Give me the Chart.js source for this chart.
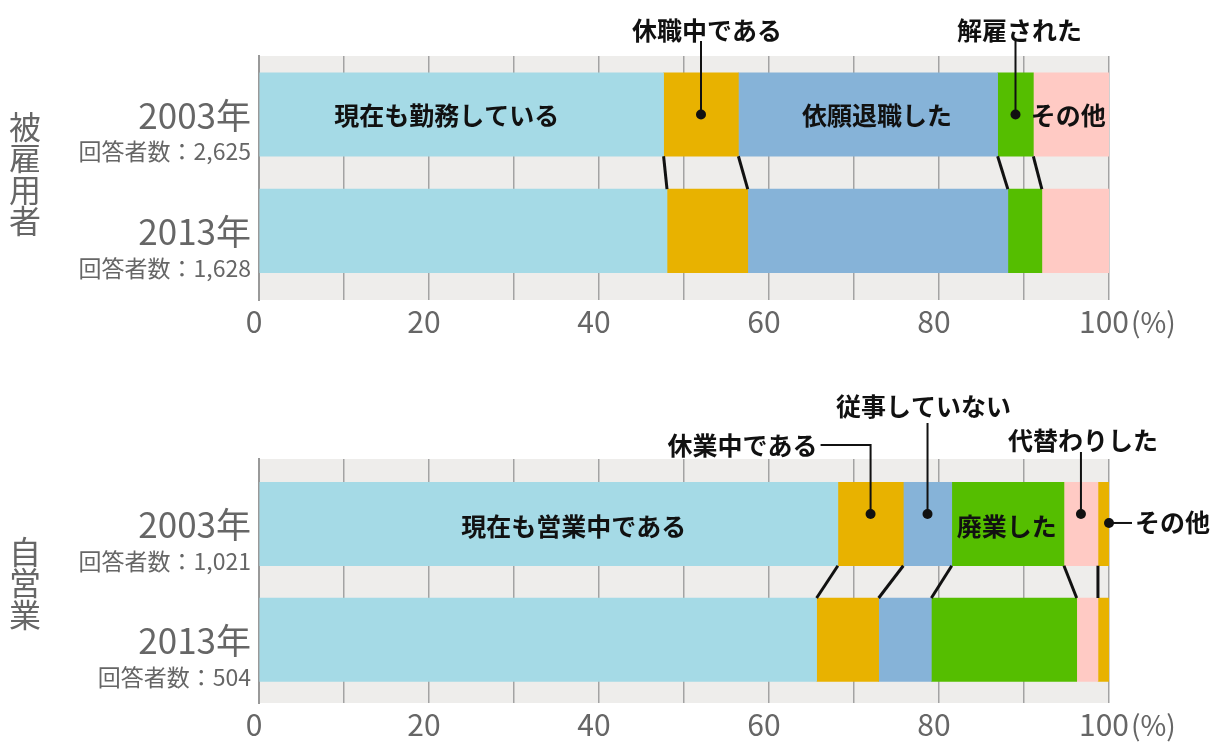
<!DOCTYPE html>
<html lang="ja">
<head>
<meta charset="utf-8">
<script src="https://cdn.jsdelivr.net/npm/chart.js@4.4.1/dist/chart.umd.min.js"></script>
<style>
  html, body { margin: 0; background: #fff; }
  .wrap { position: relative; width: 1220px; height: 752px; }
  .box { position: absolute; left: 0; width: 1220px; height: 376px; }
  #topBox { top: 0; }
  #bottomBox { top: 376px; }
</style>
</head>
<body>
<div class="wrap">
  <div class="box" id="topBox"><canvas id="topChart" width="1220" height="376"></canvas></div>
  <div class="box" id="bottomBox"><canvas id="bottomChart" width="1220" height="376"></canvas></div>
</div>
<script>
/* ---------------- DATA ---------------- */

const xTickLabels = [0, 20, 40, 60, 80, 100];

// 被雇用者
const empYears = ["2003年", "2013年"];
const empCounts = ["2,625", "1,628"];
const empSeries = ["現在も勤務している", "休職中である", "依願退職した", "解雇された", "その他"];
const empWorking = [47.6, 48.0];
const empLeave = [8.8, 9.5];
const empQuit = [30.5, 30.6];
const empFired = [4.2, 4.0];
const empOther = [8.9, 7.9];

// 自営業
const selfYears = ["2003年", "2013年"];
const selfCounts = ["1,021", "504"];
const selfSeries = ["現在も営業中である", "休業中である", "従事していない", "廃業した", "代替わりした", "その他"];
const selfRunning = [68.1, 65.6];
const selfPaused = [7.7, 7.3];
const selfNotWorking = [5.7, 6.2];
const selfClosed = [13.2, 17.1];
const selfSucceeded = [4.0, 2.5];
const selfOther = [1.3, 1.3];

/* ---------------- STYLE ---------------- */

const FONT = '"Noto Sans CJK JP", "Noto Sans", sans-serif';
const colors = ["#a5dae6", "#e8b200", "#86b3d8", "#55be00", "#ffcac4", "#e8b200"];

/* ---------------- OVERLAY PLUGIN ---------------- */

const overlay = {
  id: "overlay",
  beforeDraw(chart) {
    const a = chart.chartArea, ctx = chart.ctx;
    ctx.save();
    ctx.fillStyle = "#eeedeb";
    ctx.fillRect(a.left, a.top, a.right - a.left, a.bottom - a.top);
    ctx.restore();
  },
  afterDatasetsDraw(chart, args, o) {
    const ctx = chart.ctx, a = chart.chartArea;
    const rows = chart.getDatasetMeta(0).data.map(b => b.y);
    ctx.save();

    // lines joining the two bars
    ctx.strokeStyle = "#111";
    ctx.lineWidth = 3;
    for (let d = 1; d < chart.data.datasets.length; d++) {
      const [b0, b1] = chart.getDatasetMeta(d).data;
      ctx.beginPath();
      ctx.moveTo(b0.base, b0.y + b0.height / 2);
      ctx.lineTo(b1.base, b1.y - b1.height / 2);
      ctx.stroke();
    }

    // labels inside the bars
    ctx.fillStyle = "#111";
    ctx.font = "bold 25px " + FONT;
    ctx.textBaseline = "middle";
    ctx.textAlign = "center";
    o.inside.forEach(l => {
      const b = chart.getDatasetMeta(l.ds).data[0];
      ctx.fillText(chart.data.datasets[l.ds].label, (b.base + b.x) / 2 + l.dx, b.y + l.dy);
    });

    // callouts
    ctx.lineWidth = 2;
    o.callouts.forEach(c => {
      const b = chart.getDatasetMeta(c.ds).data[0];
      const text = chart.data.datasets[c.ds].label;
      const px = c.kind === "right" ? b.x : (b.base + b.x) / 2;
      const py = b.y + c.dy;
      ctx.beginPath();
      ctx.arc(px, py, 5, 0, Math.PI * 2);
      ctx.fill();
      ctx.beginPath();
      if (c.kind === "up") {
        ctx.moveTo(px, a.top + c.lineTop);
        ctx.lineTo(px, py);
        ctx.stroke();
        ctx.textAlign = "center";
        ctx.fillText(text, px + c.dx, a.top + c.textY);
      } else if (c.kind === "elbow") {
        ctx.moveTo(px + c.dx, a.top + c.textY);
        ctx.lineTo(px, a.top + c.textY);
        ctx.lineTo(px, py);
        ctx.stroke();
        ctx.textAlign = "right";
        ctx.fillText(text, px + c.dx - 3, a.top + c.textY);
      } else {
        ctx.moveTo(px, py);
        ctx.lineTo(px + c.dx, py);
        ctx.stroke();
        ctx.textAlign = "left";
        ctx.fillText(text, px + c.dx + 3, py);
      }
    });

    // row labels
    ctx.fillStyle = "#666";
    ctx.textAlign = "right";
    rows.forEach((y, i) => {
      ctx.font = "35px " + FONT;
      ctx.fillText(o.years[i], a.left - 8, y + 1);
      ctx.font = "23px " + FONT;
      ctx.fillText("回答者数：" + o.counts[i], a.left - 8, y + 37);
    });

    // group label, vertical
    ctx.font = "32px " + FONT;
    ctx.textAlign = "center";
    const chars = [...o.group];
    const mid = (rows[0] + rows[1]) / 2 + 1;
    chars.forEach((ch, i) => {
      ctx.fillText(ch, 25, mid + (i - (chars.length - 1) / 2) * 31.5);
    });

    // (%) after the last tick
    const xs = chart.scales.x;
    ctx.font = "30px " + FONT;
    const w100 = ctx.measureText("100").width;
    ctx.font = "28px " + FONT;
    ctx.textAlign = "left";
    ctx.fillText("(%)", xs.getPixelForValue(100) - 5 + w100 / 2 + 2, xs.top + 4 + 18);

    ctx.restore();
  }
};

/* ---------------- CHARTS ---------------- */

function makeChart(canvas, c) {
  return new Chart(canvas, {
    type: "bar",
    data: {
      labels: c.years.map((_, i) => i),
      datasets: c.values.map((v, i) => ({
        label: c.series[i],
        data: v,
        backgroundColor: colors[i],
        borderWidth: 0,
        barThickness: 83.5
      }))
    },
    options: {
      indexAxis: "y",
      responsive: false,
      animation: false,
      layout: { padding: { top: c.top, right: 111, left: 0, bottom: 0 } },
      scales: {
        x: {
          type: "linear",
          stacked: true,
          min: 0,
          max: 100,
          afterFit: s => { s.height = c.axisHeight; },
          ticks: {
            stepSize: 10,
            autoSkip: false,
            maxRotation: 0,
            padding: 4,
            labelOffset: -5,
            color: "#666",
            font: { family: FONT, size: 30 },
            callback: v => xTickLabels.includes(v) ? String(v) : ""
          },
          grid: { color: "#a3a3a3", lineWidth: 1.5, drawTicks: false },
          border: { display: false }
        },
        y: {
          type: "linear",
          stacked: true,
          reverse: true,
          offset: false,
          min: c.yMin,
          max: c.yMax,
          afterFit: s => { s.width = 259; },
          ticks: { display: false },
          grid: { display: false },
          border: { display: true, color: "#999", width: 2 }
        }
      },
      plugins: {
        legend: { display: false },
        tooltip: { enabled: false },
        overlay: {
          years: c.years,
          counts: c.counts,
          group: c.group,
          inside: c.inside,
          callouts: c.callouts
        }
      }
    },
    plugins: [overlay]
  });
}

makeChart(document.getElementById("topChart"), {
  years: empYears,
  counts: empCounts,
  series: empSeries,
  values: [empWorking, empLeave, empQuit, empFired, empOther],
  group: "被雇用者",
  top: 56,
  axisHeight: 76,
  yMin: -0.503,
  yMax: 1.594,
  inside: [
    { ds: 0, dx: -15, dy: 1 },
    { ds: 2, dx: 9, dy: 1 },
    { ds: 4, dx: -3, dy: 1 }
  ],
  callouts: [
    { ds: 1, kind: "up", dx: 6, dy: 0, textY: -26, lineTop: -15 },
    { ds: 3, kind: "up", dx: 4, dy: 0, textY: -26, lineTop: -15 }
  ]
});

makeChart(document.getElementById("bottomChart"), {
  years: selfYears,
  counts: selfCounts,
  series: selfSeries,
  values: [selfRunning, selfPaused, selfNotWorking, selfClosed, selfSucceeded, selfOther],
  group: "自営業",
  top: 83,
  axisHeight: 49,
  yMin: -0.561,
  yMax: 1.546,
  inside: [
    { ds: 0, dx: 25, dy: 3 },
    { ds: 3, dx: -1, dy: 3 }
  ],
  callouts: [
    { ds: 1, kind: "elbow", dx: -50, dy: -10, textY: -14 },
    { ds: 2, kind: "up", dx: -4, dy: -10, textY: -53, lineTop: -36 },
    { ds: 4, kind: "up", dx: 2, dy: -10, textY: -19, lineTop: -7 },
    { ds: 5, kind: "right", dx: 23, dy: -1 }
  ]
});
</script>
</body>
</html>
